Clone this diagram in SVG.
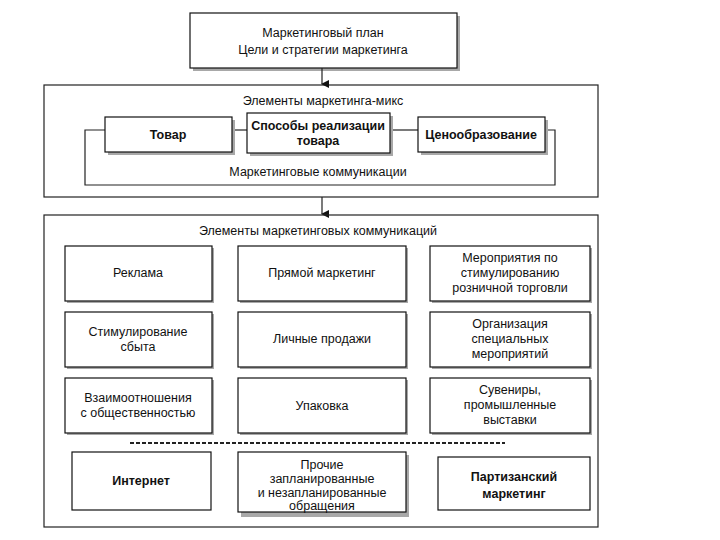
<svg xmlns="http://www.w3.org/2000/svg" width="720" height="540" viewBox="0 0 720 540">
<defs>
<marker id="ah" markerWidth="8" markerHeight="8" refX="4" refY="7" orient="auto" markerUnits="userSpaceOnUse">
<path d="M0,0 L8,0 L4,8 Z" fill="#111"/>
</marker>
</defs>
<style>
text{font-family:"Liberation Sans",Arial,sans-serif;font-size:12.5px;fill:#111;text-anchor:middle}
.b{font-weight:bold;font-size:12.5px}
.box{fill:#fff;stroke:#111;stroke-width:1.2}
.sh{fill:#a8a8a8}
.frame{fill:none;stroke:#222;stroke-width:1.2}
.ln{fill:none;stroke:#222;stroke-width:1.2}
</style>
<rect width="720" height="540" fill="#fff"/>

<g id="plan">
<rect class="sh" x="193" y="16" width="267" height="55"/>
<rect class="box" x="190" y="13" width="267" height="55"/>
<text x="323" y="37">Маркетинговый план</text>
<text x="323" y="54">Цели и стратегии маркетинга</text>
</g>

<g id="mix">
<rect class="frame" x="44" y="85" width="554" height="112"/>
<text x="323" y="105">Элементы маркетинга-микс</text>
<text x="318" y="176">Маркетинговые коммуникации</text>
</g>

<g id="connectors">
<line class="ln" x1="322" y1="68" x2="322" y2="84" marker-end="url(#ah)"/>
<line class="ln" x1="322" y1="197" x2="322" y2="214" marker-end="url(#ah)"/>
<polyline class="ln" points="105,130 85,130 85,185 555,185 555,130 545,130"/>
<line class="ln" x1="232" y1="130" x2="247" y2="130"/>
<line class="ln" x1="390" y1="130" x2="418" y2="130"/>
<line x1="130" y1="443" x2="505" y2="443" stroke="#222" stroke-width="2" stroke-dasharray="4,2"/>
</g>

<g id="tovar">
<rect class="sh" x="108" y="120" width="127" height="35"/>
<rect class="box" x="105" y="117" width="127" height="35"/>
<text class="b" x="168" y="139">Товар</text>
</g>
<g id="sposoby">
<rect class="sh" x="250" y="116" width="143" height="40"/>
<rect class="box" x="247" y="113" width="143" height="40"/>
<text class="b" x="318" y="130">Способы реализации</text>
<text class="b" x="318" y="145">товара</text>
</g>
<g id="ceno">
<rect class="sh" x="421" y="120" width="127" height="35"/>
<rect class="box" x="418" y="117" width="127" height="35"/>
<text class="b" x="481" y="139">Ценообразование</text>
</g>

<g id="comm">
<rect class="frame" x="44" y="215" width="554" height="312"/>
<text x="318" y="235">Элементы маркетинговых коммуникаций</text>
</g>

<g id="reklama">
<rect class="sh" x="67" y="248" width="147" height="55"/>
<rect class="box" x="65" y="246" width="147" height="55"/>
<text x="138" y="277">Реклама</text>
</g>
<g id="pryamoy">
<rect class="sh" x="240" y="248" width="168" height="55"/>
<rect class="box" x="238" y="246" width="168" height="55"/>
<text x="322" y="277">Прямой маркетинг</text>
</g>
<g id="meropr">
<rect class="sh" x="432" y="248" width="160" height="55"/>
<rect class="box" x="430" y="246" width="160" height="55"/>
<text x="510" y="262">Мероприятия по</text>
<text x="510" y="277">стимулированию</text>
<text x="510" y="292">розничной торговли</text>
</g>

<g id="stimul">
<rect class="sh" x="67" y="314" width="147" height="55"/>
<rect class="box" x="65" y="312" width="147" height="55"/>
<text x="138" y="336">Стимулирование</text>
<text x="138" y="351">сбыта</text>
</g>
<g id="lichnye">
<rect class="sh" x="240" y="314" width="168" height="55"/>
<rect class="box" x="238" y="312" width="168" height="55"/>
<text x="322" y="343">Личные продажи</text>
</g>
<g id="organiz">
<rect class="sh" x="432" y="314" width="160" height="55"/>
<rect class="box" x="430" y="312" width="160" height="55"/>
<text x="510" y="328">Организация</text>
<text x="510" y="343">специальных</text>
<text x="510" y="358">мероприятий</text>
</g>

<g id="pr">
<rect class="sh" x="67" y="380" width="147" height="55"/>
<rect class="box" x="65" y="378" width="147" height="55"/>
<text x="138" y="402">Взаимоотношения</text>
<text x="138" y="417">с общественностью</text>
</g>
<g id="upakovka">
<rect class="sh" x="240" y="380" width="168" height="55"/>
<rect class="box" x="238" y="378" width="168" height="55"/>
<text x="322" y="410">Упаковка</text>
</g>
<g id="suveniry">
<rect class="sh" x="432" y="380" width="160" height="55"/>
<rect class="box" x="430" y="378" width="160" height="55"/>
<text x="510" y="394">Сувениры,</text>
<text x="510" y="409">промышленные</text>
<text x="510" y="424">выставки</text>
</g>

<g id="internet">
<rect class="box" x="72" y="452" width="139" height="58"/>
<text class="b" x="141" y="485">Интернет</text>
</g>
<g id="prochie">
<rect class="sh" x="241" y="455" width="168" height="62"/>
<rect class="box" x="238" y="452" width="168" height="60" stroke-width="2"/>
<text x="322" y="469">Прочие</text>
<text x="322" y="483">запланированные</text>
<text x="322" y="497">и незапланированные</text>
<text x="322" y="510">обращения</text>
</g>
<g id="partizan">
<rect class="box" x="438" y="457" width="152" height="53"/>
<text class="b" x="514" y="481">Партизанский</text>
<text class="b" x="514" y="498">маркетинг</text>
</g>
</svg>
